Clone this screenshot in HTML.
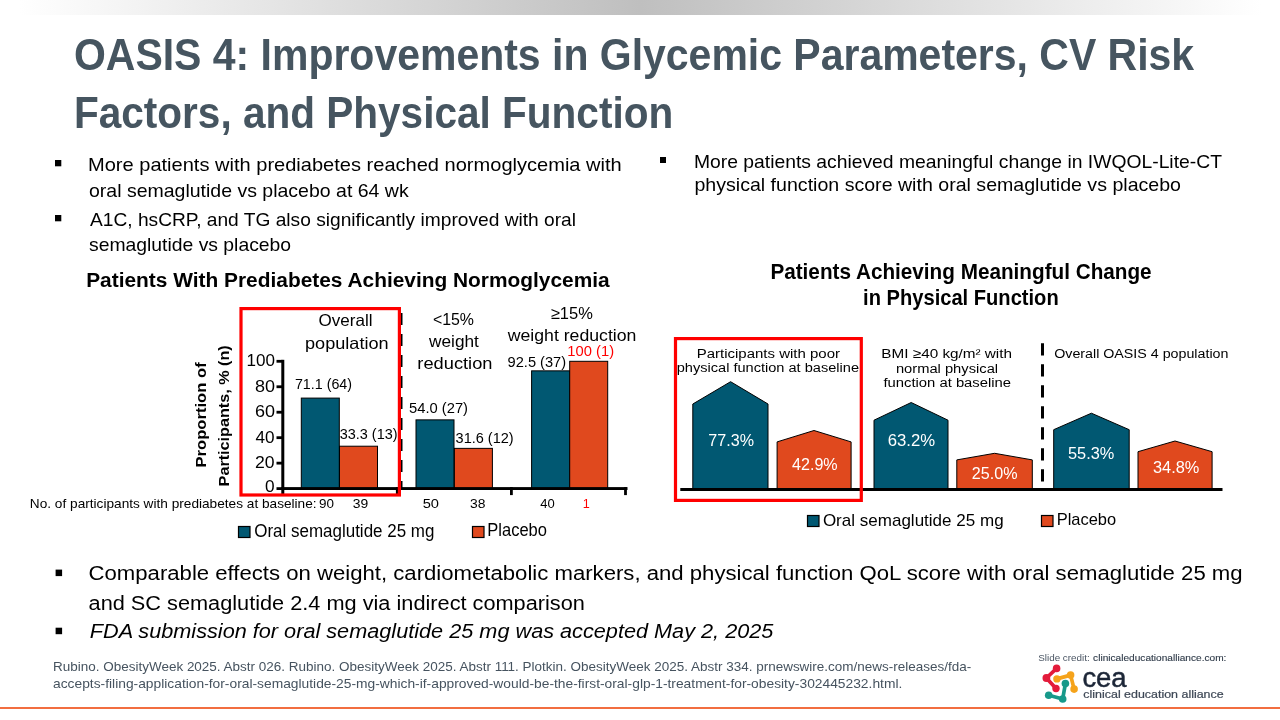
<!DOCTYPE html><html><head><meta charset="utf-8"><title>OASIS 4</title><style>html,body{margin:0;padding:0;background:#fff;width:1280px;height:720px;overflow:hidden}svg{display:block;will-change:transform;font-family:"Liberation Sans",sans-serif}</style></head><body>
<svg width="1280" height="720" viewBox="0 0 1280 720" font-family="'Liberation Sans', sans-serif">
<defs><linearGradient id="tg" x1="0" x2="1" y1="0" y2="0"><stop offset="0.015" stop-color="#ffffff"/><stop offset="0.5" stop-color="#bfbfbf"/><stop offset="0.985" stop-color="#ffffff"/></linearGradient></defs>
<rect x="0" y="0" width="1280" height="15" fill="url(#tg)"/>
<rect x="0" y="707" width="1280" height="2" fill="#f26e40"/>
<rect x="55" y="160" width="6.3" height="6.3" fill="#000"/>
<rect x="55" y="215" width="6.3" height="6.3" fill="#000"/>
<rect x="660" y="157" width="6" height="6" fill="#000"/>
<rect x="55.6" y="569.6" width="6.5" height="6.5" fill="#000"/>
<rect x="55.6" y="627.7" width="6.5" height="6.5" fill="#000"/>
<rect x="301.30" y="398.09" width="38.0" height="90.51" fill="#015872" stroke="#000" stroke-width="1"/>
<rect x="339.50" y="446.21" width="38.0" height="42.39" fill="#e0491e" stroke="#000" stroke-width="1"/>
<rect x="416.00" y="419.86" width="38.0" height="68.74" fill="#015872" stroke="#000" stroke-width="1"/>
<rect x="454.40" y="448.37" width="38.0" height="40.23" fill="#e0491e" stroke="#000" stroke-width="1"/>
<rect x="531.60" y="370.85" width="38.0" height="117.75" fill="#015872" stroke="#000" stroke-width="1"/>
<rect x="569.70" y="361.30" width="38.0" height="127.30" fill="#e0491e" stroke="#000" stroke-width="1"/>
<rect x="281.3" y="359.8" width="3" height="134.5" fill="#000"/>
<rect x="276.5" y="487.20" width="6" height="2.8" fill="#000"/>
<rect x="276.5" y="461.74" width="6" height="2.8" fill="#000"/>
<rect x="276.5" y="436.28" width="6" height="2.8" fill="#000"/>
<rect x="276.5" y="410.82" width="6" height="2.8" fill="#000"/>
<rect x="276.5" y="385.36" width="6" height="2.8" fill="#000"/>
<rect x="276.5" y="359.90" width="6" height="2.8" fill="#000"/>
<rect x="281.3" y="487.1" width="346.2" height="2.9" fill="#000"/>
<rect x="395.90" y="487.1" width="2.8" height="8" fill="#000"/>
<rect x="510.00" y="487.1" width="2.8" height="8" fill="#000"/>
<rect x="624.10" y="487.1" width="2.8" height="8" fill="#000"/>
<line x1="401.2" y1="313" x2="401.2" y2="488" stroke="#000" stroke-width="2.6" stroke-dasharray="12 9"/>
<rect x="241" y="308.6" width="158.4" height="186.4" fill="none" stroke="#ff0000" stroke-width="3.2"/>
<rect x="238.5" y="526.5" width="11.5" height="11" fill="#015872" stroke="#000" stroke-width="1.2"/>
<rect x="472.5" y="526.5" width="11.5" height="11" fill="#e0491e" stroke="#000" stroke-width="1.2"/>
<rect x="807.5" y="515.5" width="11.5" height="11" fill="#015872" stroke="#000" stroke-width="1.2"/>
<rect x="1041.5" y="515.5" width="11.5" height="11" fill="#e0491e" stroke="#000" stroke-width="1.2"/>
<polygon points="692.8,489 692.8,404 730.6,381.7 768.0,404 768.0,489" fill="#015872" stroke="#000" stroke-width="1"/>
<polygon points="777.1,489 777.1,441.9 814,430.5 851.1,441.9 851.1,489" fill="#e0491e" stroke="#000" stroke-width="1"/>
<polygon points="874.0,489 874.0,420.2 911.2,402.5 948.0,420.2 948.0,489" fill="#015872" stroke="#000" stroke-width="1"/>
<polygon points="956.8,489 956.8,459.9 994.6,453.3 1032.3,459.9 1032.3,489" fill="#e0491e" stroke="#000" stroke-width="1"/>
<polygon points="1053.7,489 1053.7,429.7 1091.4,413.2 1129.2,429.7 1129.2,489" fill="#015872" stroke="#000" stroke-width="1"/>
<polygon points="1138.0,489 1138.0,451.7 1175,441 1212.1,451.7 1212.1,489" fill="#e0491e" stroke="#000" stroke-width="1"/>
<rect x="680.3" y="488" width="542.2" height="3" fill="#000"/>
<line x1="1042.5" y1="343.2" x2="1042.5" y2="482" stroke="#000" stroke-width="3" stroke-dasharray="12.2 8.8"/>
<rect x="675.5" y="338.6" width="185.8" height="161.8" fill="none" stroke="#ff0000" stroke-width="3.2"/>
<line x1="1056.6" y1="668.4" x2="1046.4" y2="678" stroke="#e31b3b" stroke-width="3.7" stroke-linecap="round"/><line x1="1046.4" y1="678" x2="1056" y2="688.5" stroke="#e31b3b" stroke-width="3.7" stroke-linecap="round"/><circle cx="1056.6" cy="668.4" r="3.8" fill="#e31b3b"/><circle cx="1046.4" cy="678" r="3.9" fill="#e31b3b"/><circle cx="1056" cy="688.5" r="3.7" fill="#e31b3b"/>
<line x1="1056.9" y1="678.9" x2="1070.6" y2="675.1" stroke="#f5a31b" stroke-width="3.7" stroke-linecap="round"/><line x1="1070.6" y1="675.1" x2="1074.1" y2="689.1" stroke="#f5a31b" stroke-width="3.7" stroke-linecap="round"/><circle cx="1056.9" cy="678.9" r="3.7" fill="#f5a31b"/><circle cx="1070.6" cy="675.1" r="3.8" fill="#f5a31b"/><circle cx="1074.1" cy="689.1" r="3.8" fill="#f5a31b"/>
<line x1="1065.4" y1="683.6" x2="1062.7" y2="699" stroke="#17998a" stroke-width="3.7" stroke-linecap="round"/><line x1="1048.7" y1="695.2" x2="1062.7" y2="699" stroke="#17998a" stroke-width="3.7" stroke-linecap="round"/><circle cx="1065.4" cy="683.6" r="3.8" fill="#17998a"/><circle cx="1048.7" cy="695.2" r="3.8" fill="#17998a"/><circle cx="1062.7" cy="699" r="3.8" fill="#17998a"/>
<text x="73.95" y="70.20" font-size="43.75" textLength="1120.20" lengthAdjust="spacingAndGlyphs" font-weight="bold" fill="#465560">OASIS 4: Improvements in Glycemic Parameters, CV Risk</text>
<text x="73.95" y="128.20" font-size="43.75" textLength="599.25" lengthAdjust="spacingAndGlyphs" font-weight="bold" fill="#465560">Factors, and Physical Function</text>
<text x="88.00" y="170.80" font-size="17.59" textLength="533.70" lengthAdjust="spacingAndGlyphs" fill="#000000">More patients with prediabetes reached normoglycemia with</text>
<text x="89.00" y="196.50" font-size="17.59" textLength="319.65" lengthAdjust="spacingAndGlyphs" fill="#000000">oral semaglutide vs placebo at 64 wk</text>
<text x="90.00" y="225.50" font-size="17.59" textLength="486.00" lengthAdjust="spacingAndGlyphs" fill="#000000">A1C, hsCRP, and TG also significantly improved with oral</text>
<text x="89.00" y="251.20" font-size="17.59" textLength="202.12" lengthAdjust="spacingAndGlyphs" fill="#000000">semaglutide vs placebo</text>
<text x="693.95" y="167.70" font-size="17.59" textLength="528.00" lengthAdjust="spacingAndGlyphs" fill="#000000">More patients achieved meaningful change in IWQOL-Lite-CT</text>
<text x="694.45" y="190.50" font-size="17.59" textLength="486.55" lengthAdjust="spacingAndGlyphs" fill="#000000">physical function score with oral semaglutide vs placebo</text>
<text x="86.20" y="286.60" font-size="20.79" textLength="523.50" lengthAdjust="spacingAndGlyphs" font-weight="bold" fill="#000000">Patients With Prediabetes Achieving Normoglycemia</text>
<text x="770.40" y="278.70" font-size="21.22" textLength="381.25" lengthAdjust="spacingAndGlyphs" font-weight="bold" fill="#000000">Patients Achieving Meaningful Change</text>
<text x="863.10" y="304.70" font-size="21.22" textLength="195.60" lengthAdjust="spacingAndGlyphs" font-weight="bold" fill="#000000">in Physical Function</text>
<text x="318.60" y="326.00" font-size="16.72" textLength="54.00" lengthAdjust="spacingAndGlyphs" fill="#000000">Overall</text>
<text x="305.00" y="348.60" font-size="16.72" textLength="83.60" lengthAdjust="spacingAndGlyphs" fill="#000000">population</text>
<text x="432.88" y="324.75" font-size="16.72" textLength="41.12" lengthAdjust="spacingAndGlyphs" fill="#000000">&lt;15%</text>
<text x="429.00" y="346.50" font-size="16.72" textLength="49.88" lengthAdjust="spacingAndGlyphs" fill="#000000">weight</text>
<text x="417.38" y="369.40" font-size="16.72" textLength="75.08" lengthAdjust="spacingAndGlyphs" fill="#000000">reduction</text>
<text x="550.75" y="318.75" font-size="16.72" textLength="42.05" lengthAdjust="spacingAndGlyphs" fill="#000000">≥15%</text>
<text x="507.70" y="340.90" font-size="16.72" textLength="128.75" lengthAdjust="spacingAndGlyphs" fill="#000000">weight reduction</text>
<text x="294.95" y="388.60" font-size="13.95" textLength="57.05" lengthAdjust="spacingAndGlyphs" fill="#000000">71.1 (64)</text>
<text x="339.75" y="438.90" font-size="13.95" textLength="57.80" lengthAdjust="spacingAndGlyphs" fill="#000000">33.3 (13)</text>
<text x="409.00" y="412.50" font-size="13.95" textLength="59.00" lengthAdjust="spacingAndGlyphs" fill="#000000">54.0 (27)</text>
<text x="455.60" y="443.00" font-size="13.95" textLength="58.10" lengthAdjust="spacingAndGlyphs" fill="#000000">31.6 (12)</text>
<text x="507.60" y="366.60" font-size="13.95" textLength="58.50" lengthAdjust="spacingAndGlyphs" fill="#000000">92.5 (37)</text>
<text x="567.38" y="356.25" font-size="13.95" textLength="46.72" lengthAdjust="spacingAndGlyphs" fill="#ff0000">100 (1)</text>
<text x="246.45" y="366.30" font-size="17.15" textLength="28.50" lengthAdjust="spacingAndGlyphs" fill="#000000">100</text>
<text x="254.90" y="391.80" font-size="17.15" textLength="20.05" lengthAdjust="spacingAndGlyphs" fill="#000000">80</text>
<text x="254.90" y="417.30" font-size="17.15" textLength="20.05" lengthAdjust="spacingAndGlyphs" fill="#000000">60</text>
<text x="255.40" y="442.80" font-size="17.15" textLength="19.10" lengthAdjust="spacingAndGlyphs" fill="#000000">40</text>
<text x="254.90" y="467.80" font-size="17.15" textLength="19.60" lengthAdjust="spacingAndGlyphs" fill="#000000">20</text>
<text x="264.90" y="491.70" font-size="17.15" textLength="9.60" lengthAdjust="spacingAndGlyphs" fill="#000000">0</text>
<text x="29.85" y="507.60" font-size="12.79" textLength="286.75" lengthAdjust="spacingAndGlyphs" fill="#000000">No. of participants with prediabetes at baseline:</text>
<text x="318.95" y="507.60" font-size="12.50" textLength="14.95" lengthAdjust="spacingAndGlyphs" fill="#000000">90</text>
<text x="352.75" y="507.60" font-size="12.50" textLength="15.45" lengthAdjust="spacingAndGlyphs" fill="#000000">39</text>
<text x="422.70" y="507.60" font-size="12.50" textLength="16.30" lengthAdjust="spacingAndGlyphs" fill="#000000">50</text>
<text x="470.05" y="507.60" font-size="12.50" textLength="15.45" lengthAdjust="spacingAndGlyphs" fill="#000000">38</text>
<text x="540.30" y="507.70" font-size="12.50" textLength="14.45" lengthAdjust="spacingAndGlyphs" fill="#000000">40</text>
<text x="582.88" y="507.70" font-size="12.50" textLength="7.03" lengthAdjust="spacingAndGlyphs" fill="#ff0000">1</text>
<text x="254.20" y="536.90" font-size="17.44" textLength="180.25" lengthAdjust="spacingAndGlyphs" fill="#000000">Oral semaglutide 25 mg</text>
<text x="487.25" y="535.60" font-size="17.44" textLength="59.70" lengthAdjust="spacingAndGlyphs" fill="#000000">Placebo</text>
<text x="696.70" y="357.80" font-size="13.23" textLength="143.30" lengthAdjust="spacingAndGlyphs" fill="#000000">Participants with poor</text>
<text x="676.75" y="372.20" font-size="13.23" textLength="182.25" lengthAdjust="spacingAndGlyphs" fill="#000000">physical function at baseline</text>
<text x="881.35" y="357.90" font-size="13.23" textLength="130.65" lengthAdjust="spacingAndGlyphs" fill="#000000">BMI ≥40 kg/m² with</text>
<text x="895.90" y="372.50" font-size="13.23" textLength="102.20" lengthAdjust="spacingAndGlyphs" fill="#000000">normal physical</text>
<text x="883.40" y="387.10" font-size="13.23" textLength="127.70" lengthAdjust="spacingAndGlyphs" fill="#000000">function at baseline</text>
<text x="1054.20" y="358.30" font-size="13.23" textLength="174.25" lengthAdjust="spacingAndGlyphs" fill="#000000">Overall OASIS 4 population</text>
<text x="708.35" y="445.90" font-size="17.15" textLength="45.65" lengthAdjust="spacingAndGlyphs" fill="#ffffff">77.3%</text>
<text x="792.00" y="469.70" font-size="17.15" textLength="45.65" lengthAdjust="spacingAndGlyphs" fill="#ffffff">42.9%</text>
<text x="887.70" y="445.70" font-size="17.15" textLength="47.40" lengthAdjust="spacingAndGlyphs" fill="#ffffff">63.2%</text>
<text x="971.80" y="478.80" font-size="17.15" textLength="45.70" lengthAdjust="spacingAndGlyphs" fill="#ffffff">25.0%</text>
<text x="1068.00" y="458.75" font-size="17.15" textLength="46.35" lengthAdjust="spacingAndGlyphs" fill="#ffffff">55.3%</text>
<text x="1152.95" y="473.40" font-size="17.15" textLength="46.40" lengthAdjust="spacingAndGlyphs" fill="#ffffff">34.8%</text>
<text x="822.88" y="525.60" font-size="17.15" textLength="180.72" lengthAdjust="spacingAndGlyphs" fill="#000000">Oral semaglutide 25 mg</text>
<text x="1056.70" y="524.90" font-size="17.15" textLength="59.50" lengthAdjust="spacingAndGlyphs" fill="#000000">Placebo</text>
<text x="88.55" y="580.30" font-size="19.91" textLength="1154.05" lengthAdjust="spacingAndGlyphs" fill="#000000">Comparable effects on weight, cardiometabolic markers, and physical function QoL score with oral semaglutide 25 mg</text>
<text x="88.55" y="609.75" font-size="19.91" textLength="496.33" lengthAdjust="spacingAndGlyphs" fill="#000000">and SC semaglutide 2.4 mg via indirect comparison</text>
<text x="89.75" y="638.40" font-size="19.91" textLength="683.62" lengthAdjust="spacingAndGlyphs" font-style="italic" fill="#000000">FDA submission for oral semaglutide 25 mg was accepted May 2, 2025</text>
<text x="53.00" y="670.60" font-size="12.35" textLength="918.20" lengthAdjust="spacingAndGlyphs" fill="#46535f">Rubino. ObesityWeek 2025. Abstr 026. Rubino. ObesityWeek 2025. Abstr 111. Plotkin. ObesityWeek 2025. Abstr 334. prnewswire.com/news-releases/fda-</text>
<text x="53.00" y="687.50" font-size="12.35" textLength="849.30" lengthAdjust="spacingAndGlyphs" fill="#46535f">accepts-filing-application-for-oral-semaglutide-25-mg-which-if-approved-would-be-the-first-oral-glp-1-treatment-for-obesity-302445232.html.</text>
<text transform="translate(205.8,466.7) rotate(-90)" x="-0.85" y="0.00" font-size="14.97" textLength="105.25" lengthAdjust="spacingAndGlyphs" font-weight="bold" fill="#000000">Proportion of</text>
<text transform="translate(229.1,485.6) rotate(-90)" x="-0.80" y="0.00" font-size="14.97" textLength="141.10" lengthAdjust="spacingAndGlyphs" font-weight="bold" fill="#000000">Participants, % (n)</text>
<text x="1038.25" y="660.80" font-size="9.30" textLength="51.40" lengthAdjust="spacingAndGlyphs" fill="#4a5563">Slide credit:</text>
<text x="1093.10" y="660.80" font-size="9.30" textLength="133.30" lengthAdjust="spacingAndGlyphs" stroke="#2e3a48" stroke-width="0.12" fill="#2e3a48">clinicaleducationalliance.com:</text>
<text x="1082.38" y="686.60" font-size="27.82" textLength="44.25" lengthAdjust="spacingAndGlyphs" stroke="#1c2637" stroke-width="0.5" fill="#1c2637">cea</text>
<text x="1083.38" y="698.10" font-size="10.17" textLength="140.27" lengthAdjust="spacingAndGlyphs" stroke="#3d4755" stroke-width="0.2" fill="#3d4755">clinical education alliance</text>
</svg>
</body></html>
